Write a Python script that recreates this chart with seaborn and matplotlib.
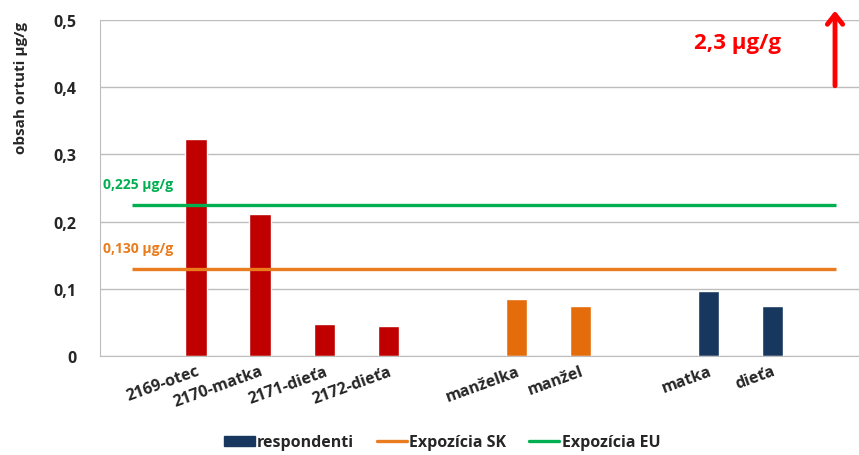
import numpy as np
import pandas as pd
import matplotlib.pyplot as plt
import seaborn as sns
from matplotlib.patches import Patch
from matplotlib.lines import Line2D

# ---- data ----
slots = ['_a', '2169-otec', '2170-matka', '2171-dieťa', '2172-dieťa', '_b',
         'manželka', 'manžel', '_c', 'matka', 'dieťa', '_d']
names = ['2169-otec', '2170-matka', '2171-dieťa', '2172-dieťa',
         'manželka', 'manžel', 'matka', 'dieťa']
values = [0.323, 0.211, 0.048, 0.045, 0.085, 0.074, 0.097, 0.074]
groups = ['r', 'r', 'r', 'r', 'o', 'o', 'n', 'n']
limit_sk = 0.130
limit_eu = 0.225
yticks = [0, 0.1, 0.2, 0.3, 0.4, 0.5]
ytick_labels = ['0', '0,1', '0,2', '0,3', '0,4', '0,5']

colors = {'r': '#C00000', 'o': '#E46C0A', 'n': '#17375E'}
c_sk = '#E97C1E'
c_eu = '#00B050'

df = pd.DataFrame({'name': names, 'value': values, 'group': groups})

sns.set_style('white')
plt.rcParams['font.family'] = ['Open Sans', 'DejaVu Sans']

fig = plt.figure(figsize=(8.59, 4.56), dpi=100)
ax = fig.add_axes([0.1164, 0.217, 0.884, 0.737])

sns.barplot(data=df, x='name', y='value', hue='group', order=slots,
            palette=colors, dodge=False, width=0.33, legend=False, ax=ax,
            saturation=1)

ax.hlines(limit_eu, 0, 11, color=c_eu, lw=2.4, zorder=5)
ax.hlines(limit_sk, 0, 11, color=c_sk, lw=2.4, zorder=5)

ax.set_ylim(0, 0.5)
ax.set_xlim(-0.5, 11.36)
ax.set_yticks(yticks)
ax.set_yticklabels(ytick_labels, fontsize=11.5, fontweight='bold')
ax.yaxis.grid(True, color='#BDBDBD', lw=1)
ax.set_axisbelow(True)
ax.tick_params(axis='y', length=0, pad=17)
ax.tick_params(axis='x', length=0, pad=5)

xl = [s if not s.startswith('_') else '' for s in slots]
ax.set_xticks(range(len(slots)))
ax.set_xticklabels(xl, rotation=20, ha='right', rotation_mode='anchor',
                   fontsize=11.5, fontweight='bold')
ax.set_xlabel('')
ax.set_ylabel('obsah ortuti μg/g', fontsize=11, fontweight='bold')
ax.yaxis.set_label_coords(-0.095, 0.80)

for s in ['top', 'right']:
    ax.spines[s].set_visible(False)
ax.spines['left'].set_color('#BDBDBD')
ax.spines['bottom'].set_color('#BDBDBD')

ax.text(-0.45, limit_eu + 0.02, '0,225 μg/g', color=c_eu, fontsize=10,
        fontweight='bold', va='bottom')
ax.text(-0.45, limit_sk + 0.02, '0,130 μg/g', color=c_sk, fontsize=10,
        fontweight='bold', va='bottom')

ax.text(9.45, 0.466, '2,3 μg/g', color='#FF0000', fontsize=16,
        fontweight='bold', ha='center', va='center')
ax.annotate('', xy=(10.98, 0.518), xytext=(10.98, 0.398),
            arrowprops=dict(arrowstyle='->,head_width=0.55,head_length=0.7',
                            color='#FF0000', lw=3.5),
            annotation_clip=False)

handles = [Patch(color=colors['n'], label='respondenti'),
           Line2D([0], [0], color=c_sk, lw=2.4, label='Expozícia SK'),
           Line2D([0], [0], color=c_eu, lw=2.4, label='Expozícia EU')]
leg = fig.legend(handles=handles, loc='center', bbox_to_anchor=(0.515, 0.028),
                 ncol=3, frameon=False, handlelength=1.9, handleheight=0.6,
                 columnspacing=1.4, handletextpad=0.15,
                 prop={'weight': 'bold', 'size': 11.5})

fig.savefig('out.png', dpi=100)
